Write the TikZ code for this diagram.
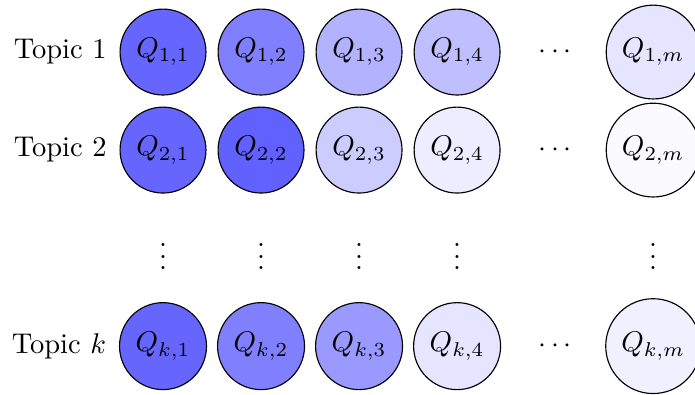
\documentclass[tikz,border=0pt]{standalone}
\usepackage{tikz}
\usetikzlibrary{positioning}
\begin{document}
\begin{tikzpicture}[x=1.208cm, y=-1.208cm, every node/.style={font=\normalsize},
    qnode/.style={circle, draw}]
  \useasboundingbox (-1.663, -0.531) rectangle (5.427, 3.490);
  % first topic
  \foreach \x/\j/\shade in {0/1/60, 1/2/50, 2/3/30, 3/4/25, 5/m/10}
    \node[qnode, fill=blue!\shade] (q1-\j) at (\x, 0) {$Q_{1,\j}$};
  % second topic
  \foreach \x/\j/\shade in {0/1/60, 1/2/62, 2/3/20, 3/4/7, 5/m/2}
    \node[qnode, fill=blue!\shade] (q2-\j) at (\x, 1) {$Q_{2,\j}$};
  % last topic
  \foreach \x/\j/\shade in {0/1/60, 1/2/50, 2/3/40, 3/4/10, 5/m/6}
    \node[qnode, fill=blue!\shade] (qk-\j) at (\x, 3) {$Q_{k,\j}$};
  \node[left=1pt of q1-1] (t1) {Topic 1};
  \node[left=1pt of q2-1] (t2) {Topic 2};
  \node[left=1pt of qk-1] (tk) {Topic $k$};
  \node (h1) at (4, 0) {$\cdots$};
  \node (h2) at (4, 1) {$\cdots$};
  \node (hk) at (4, 3) {$\cdots$};
  \foreach \x/\j in {0/1, 1/2, 2/3, 3/4, 5/m}
    \node (v\j) at (\x, 2) {$\vdots$};
\end{tikzpicture}
\end{document}
